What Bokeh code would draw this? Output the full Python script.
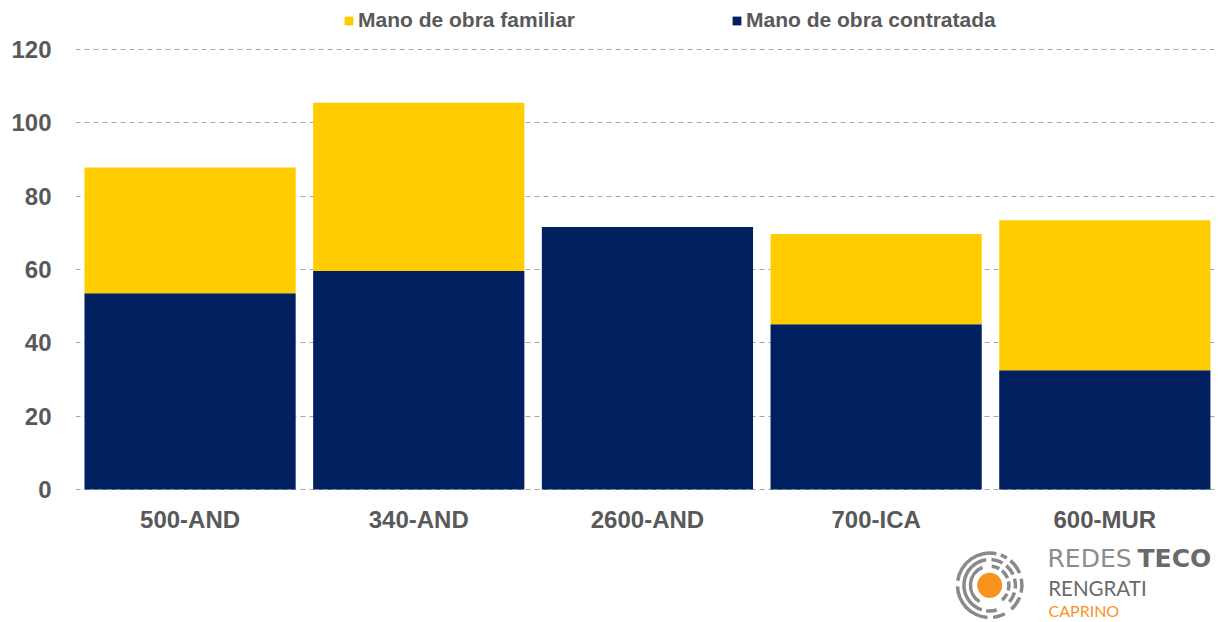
from bokeh.plotting import figure
from bokeh.models import (ColumnDataSource, FixedTicker, Range1d, Legend, LegendItem, Label)
from bokeh.embed import file_html
from bokeh.resources import INLINE
import math

# ---- data ----
categories = ['500-AND', '340-AND', '2600-AND', '700-ICA', '600-MUR']
contratada = [53.5, 59.6, 71.6, 45.1, 32.5]
familiar = [34.3, 45.9, 0.0, 24.6, 40.9]
y_ticks = [0, 20, 40, 60, 80, 100, 120]
series_labels = ['Mano de obra familiar', 'Mano de obra contratada']

NAVY = '#002060'
YELLOW = '#FFCC00'
GRAY = '#595959'
FONT = 'Liberation Sans'

W, H = 1222, 622
LEFT, RIGHT = 75, 7
X0, X1 = -0.501, 4.484
Y0, Y1 = -36.27, 133.36

src = ColumnDataSource(dict(x=list(range(len(categories))), cat=categories,
                            contratada=contratada, familiar=familiar))

p = figure(width=W, height=H, output_backend='svg', toolbar_location=None,
           x_range=Range1d(X0, X1), y_range=Range1d(Y0, Y1),
           min_border_left=LEFT, min_border_right=RIGHT, min_border_top=0, min_border_bottom=0)
p.outline_line_color = None
p.background_fill_color = 'white'

r = p.vbar_stack(['contratada', 'familiar'], x='x', width=0.9235, source=src,
                 color=[NAVY, YELLOW], line_color=None)

# axes
p.yaxis.ticker = FixedTicker(ticks=y_ticks)
p.yaxis.axis_line_color = None
p.yaxis.major_tick_line_color = None
p.yaxis.minor_tick_line_color = None
p.yaxis.major_label_standoff = 18
p.yaxis.major_label_text_font = FONT
p.yaxis.major_label_text_font_style = 'bold'
p.yaxis.major_label_text_font_size = '24px'
p.yaxis.major_label_text_color = GRAY

p.xaxis.ticker = FixedTicker(ticks=list(range(len(categories))))
p.xaxis.major_label_overrides = {i: c for i, c in enumerate(categories)}
p.xaxis.fixed_location = 0
p.xaxis.axis_line_color = None
p.xaxis.major_tick_line_color = None
p.xaxis.minor_tick_line_color = None
p.xaxis.major_label_standoff = 10
p.xaxis.major_label_text_font = FONT
p.xaxis.major_label_text_font_style = 'bold'
p.xaxis.major_label_text_font_size = '24px'
p.xaxis.major_label_text_color = GRAY

p.xgrid.grid_line_color = None
p.ygrid.grid_line_color = '#A6A6A6'
p.ygrid.grid_line_dash = '5 4'
p.ygrid.grid_line_width = 1

# legends (two separate so positions match)
def mk_legend(label, rend, x, y):
    lg = Legend(items=[LegendItem(label=label, renderers=[rend])], location=(x, y),
                orientation='horizontal', padding=0, margin=0, spacing=0,
                glyph_width=11, glyph_height=11, label_standoff=4,
                border_line_color=None, background_fill_alpha=0,
                label_text_font=FONT, label_text_font_style='bold',
                label_text_font_size='21px', label_text_color=GRAY)
    p.add_layout(lg, 'center')

mk_legend(series_labels[0], r[1], 268, 590)
mk_legend(series_labels[1], r[0], 656, 590)

# ---- logo (decoration) ----
def dx(px):
    return X0 + (px - LEFT) * (X1 - X0) / (W - LEFT - RIGHT)

def dy(py):
    return Y0 + (H - py) * (Y1 - Y0) / H

def sx(px):
    return px - LEFT

def sy(py):
    return H - py

cxp, cyp = 989.2, 584.8
ring_color = '#8A8A8A'
rings = [
    (30.5, 34.0, [(78, 172), (182, 266), (276, 298), (-48, -22), (-13, 12), (22, 50), (58, 70)]),
    (24.0, 27.5, [(98, 252), (60, 86), (-40, -16), (-7, 15), (25, 50), (262, 286)]),
    (17.5, 21.0, [(112, 238), (-50, -26), (-16, 12), (22, 50), (60, 84)]),
]
for rin, rout, segs in rings:
    for a0, a1 in segs:
        p.annular_wedge(x=dx(cxp), y=dy(cyp), inner_radius=rin, outer_radius=rout,
                        inner_radius_units='screen', outer_radius_units='screen',
                        start_angle=math.radians(a0), end_angle=math.radians(a1),
                        color=ring_color, line_color=None)
p.scatter(x=dx(cxp), y=dy(cyp), size=25, marker='circle', color='#F7941D', line_color=None)

LOGO_DY = 9

def lab(text, px, py, size, color, style='normal', font='Lato'):
    p.add_layout(Label(x=sx(px), y=sy(py - LOGO_DY), x_units='screen', y_units='screen', text=text,
                       text_font=font, text_font_size=size, text_color=color,
                       text_font_style=style, text_baseline='alphabetic', text_align='left'))

lab('REDES', 1047, 567.3, '25px', '#8C8C8C', font='DejaVu Sans')
lab('TECO', 1137, 567.3, '25px', '#6A6A6A', 'bold', font='DejaVu Sans')
lab('RENGRATI', 1047.7, 596.7, '20.5px', '#6A6A6A')
lab('CAPRINO', 1048, 619, '16px', '#F7941D')

open('out.html', 'w').write(file_html(p, INLINE))
